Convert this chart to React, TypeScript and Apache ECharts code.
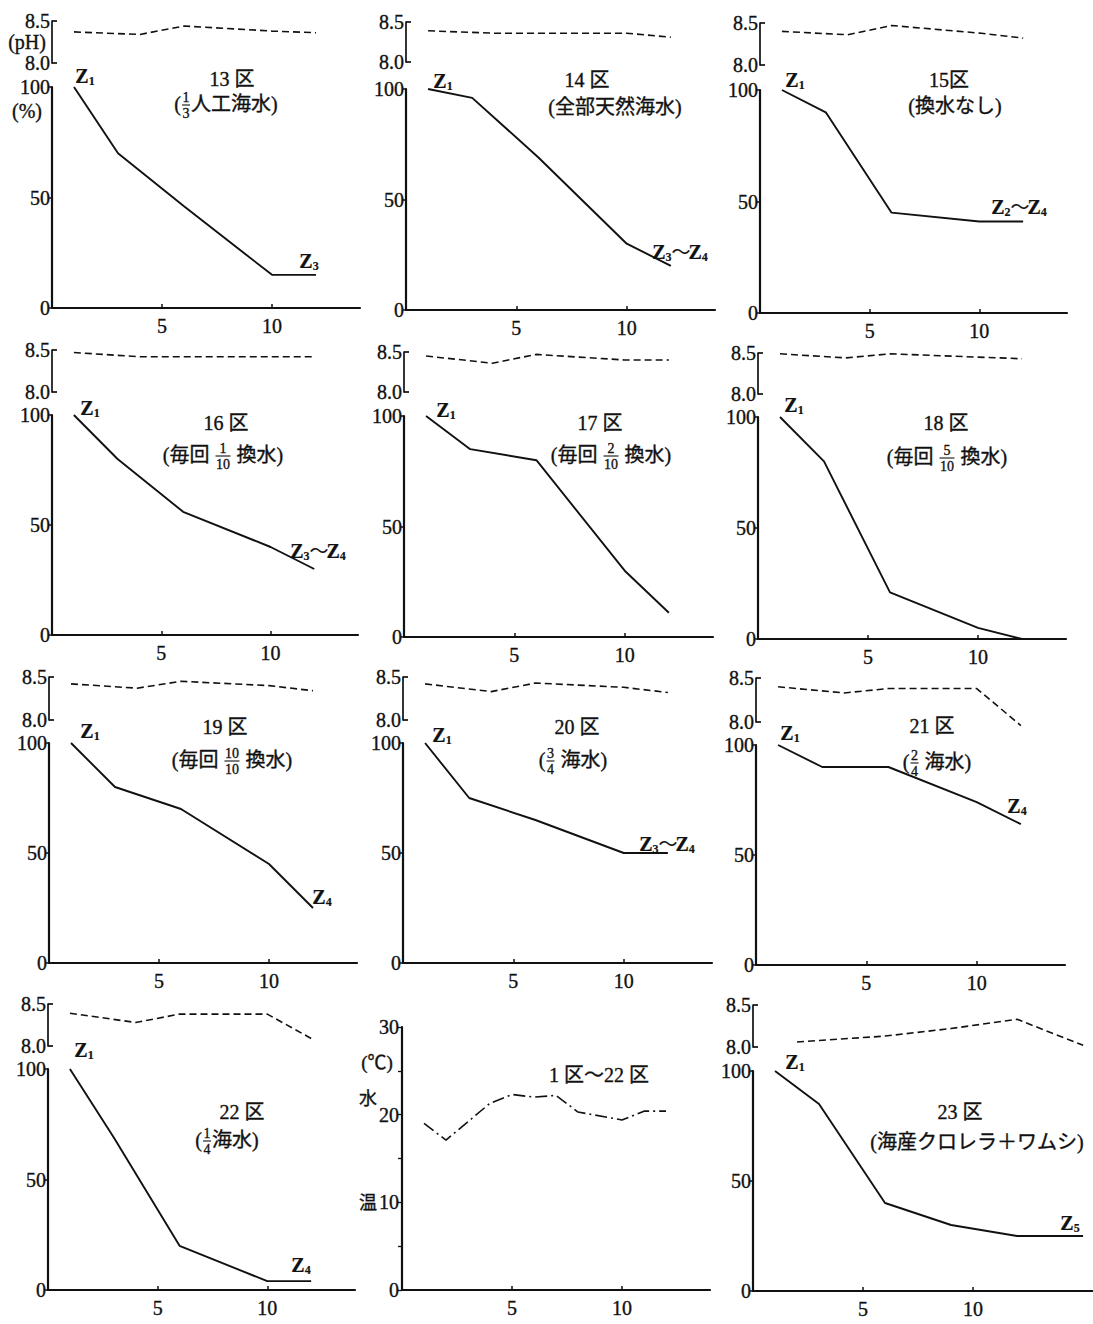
import React, { useEffect, useRef } from 'react';
import * as echarts from 'echarts';

// ---- data ----------------------------------------------------------------
// Sampling days
const survivalDays = [1, 3, 6, 10, 12];
const phDays = [1, 4, 6, 10, 12];
const survivalDays23 = [1, 3, 6, 9, 12, 15];
const phDays23 = [2, 6, 9, 12, 15];
const tempDays = [1, 2, 4, 5, 6, 7, 8, 10, 11, 12];

// Survival rate (%)
const survival13 = [100, 70, 46, 15, 15];
const survival14 = [100, 96, 69, 30, 20];
const survival15 = [100, 90, 45, 41, 41];
const survival16 = [100, 80, 56, 40, 30];
const survival17 = [100, 85, 80, 30, 11];
const survival18 = [100, 80, 21, 5, 0];
const survival19 = [100, 80, 70, 45, 25];
const survival20 = [100, 75, 65, 50, 50];
const survival21 = [100, 90, 90, 74, 64];
const survival22 = [100, 69, 20, 4, 4];
const survival23 = [100, 85, 40, 30, 25, 25];

// pH
const ph13 = [8.37, 8.34, 8.44, 8.38, 8.36];
const ph14 = [8.39, 8.36, 8.36, 8.36, 8.31];
const ph15 = [8.4, 8.36, 8.47, 8.38, 8.32];
const ph16 = [8.47, 8.42, 8.42, 8.42, 8.42];
const ph17 = [8.45, 8.36, 8.47, 8.4, 8.4];
const ph18 = [8.49, 8.44, 8.49, 8.45, 8.43];
const ph19 = [8.42, 8.37, 8.45, 8.4, 8.34];
const ph20 = [8.42, 8.33, 8.43, 8.38, 8.32];
const ph21 = [8.4, 8.33, 8.38, 8.38, 7.96];
const ph22 = [8.39, 8.28, 8.38, 8.38, 8.09];
const ph23 = [8.06, 8.13, 8.22, 8.33, 8.02];

// Water temperature (℃), sections 1–22
const waterTemp = [19, 17.1, 21.3, 22.3, 22, 22.2, 20.3, 19.4, 20.4, 20.4];

// Tick values
const survivalTicks = [0, 50, 100];
const phTicks = [8.0, 8.5];
const dayTicks = [5, 10];
const tempLabelTicks = [0, 10, 20, 30];

// ---- styling ---------------------------------------------------------------
const FONT = '"Liberation Serif", "Noto Sans CJK JP", serif';
const INK = '#111111';
const HEAVY = 0.35; // thin outline that thickens printed-looking text

type Frac = { num: string; den: string };
type Part = string | Frac;

interface Box {
  x0: number;
  top: number;
  bottom: number;
  width: number;
  phTop: number;
  phBottom: number;
  xMax: number;
}

interface Panel {
  title: string;
  caption: Part[];
  days: number[];
  survival: number[];
  phX: number[];
  ph: number[];
  box: Box;
  titleAt: [number, number];
  captionAt: [number, number];
  zLabels: { parts: string[][]; at: [number, number] }[];
}

const panels: Panel[] = [
  {
    title: '13 区', caption: ['(', { num: '1', den: '3' }, '人工海水)'],
    days: survivalDays, survival: survival13, phX: phDays, ph: ph13,
    box: { x0: 52, top: 87, bottom: 308, width: 308, phTop: 21, phBottom: 63, xMax: 14 },
    titleAt: [232, 79], captionAt: [226, 104],
    zLabels: [{ parts: [['Z', '1']], at: [85, 76] }, { parts: [['Z', '3']], at: [309, 261] }],
  },
  {
    title: '14 区', caption: ['(全部天然海水)'],
    days: survivalDays, survival: survival14, phX: phDays, ph: ph14,
    box: { x0: 406, top: 89, bottom: 310, width: 309, phTop: 22, phBottom: 62, xMax: 14 },
    titleAt: [587, 80], captionAt: [615, 107],
    zLabels: [{ parts: [['Z', '1']], at: [443, 81] }, { parts: [['Z', '3'], ['～'], ['Z', '4']], at: [680, 252] }],
  },
  {
    title: '15区', caption: ['(換水なし)'],
    days: survivalDays, survival: survival15, phX: phDays, ph: ph15,
    box: { x0: 760, top: 90, bottom: 313, width: 307, phTop: 23, phBottom: 65, xMax: 14 },
    titleAt: [949, 80], captionAt: [955, 106],
    zLabels: [{ parts: [['Z', '1']], at: [795, 80] }, { parts: [['Z', '2'], ['～'], ['Z', '4']], at: [1019, 207] }],
  },
  {
    title: '16 区', caption: ['(毎回 ', { num: '1', den: '10' }, ' 換水)'],
    days: survivalDays, survival: survival16, phX: phDays, ph: ph16,
    box: { x0: 52, top: 415, bottom: 635, width: 306, phTop: 350, phBottom: 392, xMax: 14 },
    titleAt: [226, 423], captionAt: [223, 455],
    zLabels: [{ parts: [['Z', '1']], at: [90, 408] }, { parts: [['Z', '3'], ['～'], ['Z', '4']], at: [318, 551] }],
  },
  {
    title: '17 区', caption: ['(毎回 ', { num: '2', den: '10' }, ' 換水)'],
    days: survivalDays, survival: survival17, phX: phDays, ph: ph17,
    box: { x0: 404, top: 416, bottom: 637, width: 309, phTop: 352, phBottom: 392, xMax: 14 },
    titleAt: [600, 423], captionAt: [611, 455],
    zLabels: [{ parts: [['Z', '1']], at: [446, 410] }],
  },
  {
    title: '18 区', caption: ['(毎回 ', { num: '5', den: '10' }, ' 換水)'],
    days: survivalDays, survival: survival18, phX: phDays, ph: ph18,
    box: { x0: 758, top: 417, bottom: 639, width: 308, phTop: 353, phBottom: 394, xMax: 14 },
    titleAt: [946, 423], captionAt: [947, 457],
    zLabels: [{ parts: [['Z', '1']], at: [794, 405] }],
  },
  {
    title: '19 区', caption: ['(毎回 ', { num: '10', den: '10' }, ' 換水)'],
    days: survivalDays, survival: survival19, phX: phDays, ph: ph19,
    box: { x0: 49, top: 743, bottom: 963, width: 308, phTop: 677, phBottom: 720, xMax: 14 },
    titleAt: [225, 727], captionAt: [232, 760],
    zLabels: [{ parts: [['Z', '1']], at: [90, 731] }, { parts: [['Z', '4']], at: [322, 897] }],
  },
  {
    title: '20 区', caption: ['(', { num: '3', den: '4' }, ' 海水)'],
    days: survivalDays, survival: survival20, phX: phDays, ph: ph20,
    box: { x0: 403, top: 743, bottom: 963, width: 309, phTop: 677, phBottom: 720, xMax: 14 },
    titleAt: [577, 727], captionAt: [573, 760],
    zLabels: [{ parts: [['Z', '1']], at: [442, 735] }, { parts: [['Z', '3'], ['～'], ['Z', '4']], at: [667, 844] }],
  },
  {
    title: '21 区', caption: ['(', { num: '2', den: '4' }, ' 海水)'],
    days: survivalDays, survival: survival21, phX: phDays, ph: ph21,
    box: { x0: 756, top: 745, bottom: 965, width: 309, phTop: 678, phBottom: 722, xMax: 14 },
    titleAt: [932, 726], captionAt: [937, 762],
    zLabels: [{ parts: [['Z', '1']], at: [790, 733] }, { parts: [['Z', '4']], at: [1017, 806] }],
  },
  {
    title: '22 区', caption: ['(', { num: '1', den: '4' }, '海水)'],
    days: survivalDays, survival: survival22, phX: phDays, ph: ph22,
    box: { x0: 48, top: 1069, bottom: 1290, width: 307, phTop: 1004, phBottom: 1046, xMax: 14 },
    titleAt: [242, 1112], captionAt: [227, 1140],
    zLabels: [{ parts: [['Z', '1']], at: [84, 1050] }, { parts: [['Z', '4']], at: [301, 1265] }],
  },
  {
    title: '23 区', caption: ['(海産クロレラ＋ワムシ)'],
    days: survivalDays23, survival: survival23, phX: phDays23, ph: ph23,
    box: { x0: 753, top: 1071, bottom: 1291, width: 340, phTop: 1005, phBottom: 1047, xMax: 15.45 },
    titleAt: [960, 1112], captionAt: [977, 1142],
    zLabels: [{ parts: [['Z', '1']], at: [795, 1062] }, { parts: [['Z', '5']], at: [1070, 1223] }],
  },
];

const tempBox = { x0: 402, top: 1027, bottom: 1290, width: 308, xMax: 14 };

// ---- helpers -----------------------------------------------------------------
let measureCtx: CanvasRenderingContext2D | null = null;
function measure(text: string, font: string): number {
  if (!measureCtx) measureCtx = document.createElement('canvas').getContext('2d');
  if (!measureCtx) return text.length * 10;
  measureCtx.font = font;
  return measureCtx.measureText(text).width;
}

function textEl(text: string, x: number, y: number, font: string, align = 'left', heavy = HEAVY) {
  return {
    type: 'text',
    x,
    y,
    silent: true,
    style: {
      text,
      font,
      fill: INK,
      stroke: heavy > 0 ? INK : undefined,
      lineWidth: heavy,
      textAlign: align,
      align,
      textVerticalAlign: 'middle',
      verticalAlign: 'middle',
    },
  };
}

// Caption line that may contain stacked fractions
function captionElements(cx: number, cy: number, parts: Part[], fs: number) {
  const font = `${fs}px ${FONT}`;
  const small = Math.round(fs * 0.72);
  const sFont = `${small}px ${FONT}`;
  const widths = parts.map((p) =>
    typeof p === 'string'
      ? measure(p, font)
      : Math.max(measure(p.num, sFont), measure(p.den, sFont)) + 3
  );
  const total = widths.reduce((a, b) => a + b, 0);
  let x = cx - total / 2;
  const out: any[] = [];
  parts.forEach((p, i) => {
    const w = widths[i];
    if (typeof p === 'string') {
      out.push(textEl(p, x, cy, font));
    } else {
      const mid = x + w / 2;
      const barY = cy + 1;
      out.push(textEl(p.num, mid, barY - small * 0.55, sFont, 'center'));
      out.push(textEl(p.den, mid, barY + small * 0.62, sFont, 'center'));
      out.push({
        type: 'line',
        silent: true,
        shape: { x1: x + 1, y1: barY, x2: x + w - 1, y2: barY },
        style: { stroke: INK, lineWidth: 1.1 },
      });
    }
    x += w;
  });
  return out;
}

// "Z" with subscript digits, e.g. Z3～Z4
function zElements(cx: number, cy: number, parts: string[][]) {
  const zFont = `bold 20px ${FONT}`;
  const subFont = `bold 12px ${FONT}`;
  const tFont = `19px ${FONT}`;
  const pieces: { text: string; font: string; dy: number; w: number }[] = [];
  parts.forEach((p) => {
    if (p.length === 2) {
      pieces.push({ text: p[0], font: zFont, dy: 0, w: measure(p[0], zFont) });
      pieces.push({ text: p[1], font: subFont, dy: 5, w: measure(p[1], subFont) });
    } else {
      pieces.push({ text: p[0], font: tFont, dy: 0, w: measure(p[0], tFont) - 2 });
    }
  });
  const total = pieces.reduce((a, b) => a + b.w, 0);
  let x = cx - total / 2;
  return pieces.map((pc) => {
    const el = textEl(pc.text, x, cy + pc.dy, pc.font, 'left', 0.2);
    x += pc.w;
    return el;
  });
}

const zip = (xs: number[], ys: number[]) => xs.map((x, i) => [x, ys[i]]);

const axisLabelStyle = {
  fontFamily: FONT,
  fontSize: 20,
  color: INK,
  textBorderColor: INK,
  textBorderWidth: HEAVY,
};

function buildOption() {
  const grid: any[] = [];
  const xAxis: any[] = [];
  const yAxis: any[] = [];
  const series: any[] = [];
  const elements: any[] = [];

  panels.forEach((p) => {
    const b = p.box;

    // pH strip
    const gi = grid.length;
    grid.push({ left: b.x0, top: b.phTop, width: b.width, height: b.phBottom - b.phTop, outerBoundsMode: 'none' });
    xAxis.push({ gridIndex: gi, type: 'value', min: 0, max: b.xMax, show: false, splitLine: { show: false } });
    yAxis.push({
      gridIndex: gi,
      type: 'value',
      min: 8.0,
      max: 8.5,
      interval: 0.5,
      axisLine: { show: true, lineStyle: { color: INK, width: 1.7 } },
      axisTick: { show: true, inside: true, length: 5, lineStyle: { color: INK, width: 1.7 } },
      axisLabel: { ...axisLabelStyle, customValues: phTicks, margin: 2, formatter: (v: number) => v.toFixed(1) },
      splitLine: { show: false },
    });
    series.push({
      type: 'line',
      xAxisIndex: gi,
      yAxisIndex: gi,
      data: zip(p.phX, p.ph),
      symbol: 'none',
      clip: false,
      silent: true,
      lineStyle: { color: INK, width: 1.6, type: [7, 4] },
    });

    // survival chart
    const gm = grid.length;
    grid.push({ left: b.x0, top: b.top, width: b.width, height: b.bottom - b.top, outerBoundsMode: 'none' });
    xAxis.push({
      gridIndex: gm,
      type: 'value',
      min: 0,
      max: b.xMax,
      axisLine: { show: true, onZero: false, lineStyle: { color: INK, width: 2.2 } },
      axisTick: { show: true, inside: true, length: 4, customValues: dayTicks, lineStyle: { color: INK, width: 1.5 } },
      axisLabel: { ...axisLabelStyle, customValues: dayTicks, margin: 8 },
      splitLine: { show: false },
    });
    yAxis.push({
      gridIndex: gm,
      type: 'value',
      min: 0,
      max: 100,
      interval: 50,
      axisLine: { show: true, lineStyle: { color: INK, width: 2.2 } },
      axisTick: { show: true, length: 3, lineStyle: { color: INK, width: 1.5 } },
      axisLabel: { ...axisLabelStyle, customValues: survivalTicks, margin: 2 },
      splitLine: { show: false },
    });
    series.push({
      type: 'line',
      xAxisIndex: gm,
      yAxisIndex: gm,
      data: zip(p.days, p.survival),
      symbol: 'none',
      clip: false,
      silent: true,
      lineStyle: { color: INK, width: 1.9 },
    });

    elements.push(textEl(p.title, p.titleAt[0], p.titleAt[1], `20px ${FONT}`, 'center'));
    elements.push(...captionElements(p.captionAt[0], p.captionAt[1], p.caption, 20));
    p.zLabels.forEach((z) => elements.push(...zElements(z.at[0], z.at[1], z.parts)));
  });

  // water temperature
  const gt = grid.length;
  grid.push({
    left: tempBox.x0,
    top: tempBox.top,
    width: tempBox.width,
    height: tempBox.bottom - tempBox.top,
    outerBoundsMode: 'none',
  });
  xAxis.push({
    gridIndex: gt,
    type: 'value',
    min: 0,
    max: tempBox.xMax,
    axisLine: { show: true, lineStyle: { color: INK, width: 2.2 } },
    axisTick: { show: true, inside: true, length: 4, customValues: dayTicks, lineStyle: { color: INK, width: 1.5 } },
    axisLabel: { ...axisLabelStyle, customValues: dayTicks, margin: 8 },
    splitLine: { show: false },
  });
  yAxis.push({
    gridIndex: gt,
    type: 'value',
    min: 0,
    max: 30,
    interval: 5,
    axisLine: { show: true, lineStyle: { color: INK, width: 2.2 } },
    axisTick: { show: true, length: 4, lineStyle: { color: INK, width: 1.3 } },
    axisLabel: { ...axisLabelStyle, customValues: tempLabelTicks, margin: 3 },
    splitLine: { show: false },
  });
  series.push({
    type: 'line',
    xAxisIndex: gt,
    yAxisIndex: gt,
    data: zip(tempDays, waterTemp),
    symbol: 'none',
    silent: true,
    lineStyle: { color: INK, width: 1.6, type: [12, 4, 2, 4] },
  });
  elements.push(textEl('1 区～22 区', 599, 1075, `20px ${FONT}`, 'center'));
  elements.push(textEl('(℃)', 377, 1062, `19px ${FONT}`, 'center'));
  elements.push(textEl('水', 368, 1099, `18px ${FONT}`, 'center'));
  elements.push(textEl('温', 368, 1203, `18px ${FONT}`, 'center'));

  // unit labels on the first panel
  elements.push(textEl('(pH)', 27, 42, `20px ${FONT}`, 'center'));
  elements.push(textEl('(%)', 27, 111, `20px ${FONT}`, 'center'));

  return {
    animation: false,
    backgroundColor: '#ffffff',
    grid,
    xAxis,
    yAxis,
    series,
    graphic: { elements },
  };
}

export default function App() {
  const ref = useRef<HTMLDivElement>(null);

  useEffect(() => {
    document.body.style.margin = '0';
    document.body.style.overflow = 'hidden';
    if (!ref.current) return;
    const chart = echarts.init(ref.current, undefined, { renderer: 'svg' });
    chart.setOption(buildOption() as any);
    return () => chart.dispose();
  }, []);

  return <div ref={ref} style={{ width: 1093, height: 1324, background: '#fff' }} />;
}
